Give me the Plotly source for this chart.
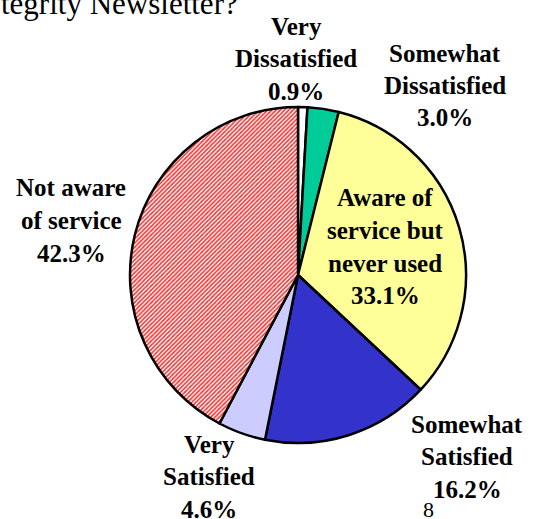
import plotly.graph_objects as go

W, H = 537, 519

labels = ["Very Dissatisfied", "Somewhat Dissatisfied", "Aware of service but never used",
          "Somewhat Satisfied", "Very Satisfied", "Not aware of service"]
values = [0.9, 3.0, 33.1, 16.2, 4.6, 42.3]
colors = ["#FFFFFF", "#00CC99", "#FFFF99", "#3333CC", "#CCCCFF", "#FFFFFF"]
shapes = ["", "", "", "", "", "/"]

# label text blocks (lines) shown round the pie
label_lines = [
    ["Very", "Dissatisfied", "0.9%"],
    ["Somewhat", "Dissatisfied", "3.0%"],
    ["Aware of", "service but", "never used", "33.1%"],
    ["Somewhat", "Satisfied", "16.2%"],
    ["Very", "Satisfied", "4.6%"],
    ["Not aware", "of service", "42.3%"],
]
# pixel centre of first line for each block
label_pos = [(296, 26), (445, 53), (385, 198), (467, 424), (209, 444), (71, 188)]
line_gap = 32.5

cx, cy, r = 298, 275, 168

SERIF = "Times New Roman, Liberation Serif, serif"

fig = go.Figure()
fig.add_trace(go.Pie(
    labels=labels,
    values=values,
    sort=False,
    direction="clockwise",
    rotation=0,
    textinfo="none",
    hoverinfo="label+percent",
    showlegend=False,
    domain=dict(x=[(cx - r) / W, (cx + r) / W], y=[1 - (cy + r) / H, 1 - (cy - r) / H]),
    marker=dict(
        colors=colors,
        line=dict(color="#000000", width=2.5),
        pattern=dict(shape=shapes, fgcolor="#F03A3A", bgcolor="#FFFFFF",
                     size=3, solidity=0.55),
    ),
))

annotations = []
for lines, (px, py) in zip(label_lines, label_pos):
    for i, t in enumerate(lines):
        annotations.append(dict(
            x=px / W, y=1 - (py + i * line_gap) / H,
            xref="paper", yref="paper",
            text="<b>" + t + "</b>", showarrow=False,
            xanchor="center", yanchor="middle",
            font=dict(family=SERIF, size=25, color="#000000"),
        ))

# cropped slide title and page number
annotations.append(dict(
    x=-1 / W, y=1 - 3 / H, xref="paper", yref="paper",
    text="tegrity Newsletter?", showarrow=False,
    xanchor="left", yanchor="middle",
    font=dict(family=SERIF, size=31, color="#000000"),
))
annotations.append(dict(
    x=428 / W, y=1 - 509 / H, xref="paper", yref="paper",
    text="8", showarrow=False, xanchor="center", yanchor="middle",
    font=dict(family=SERIF, size=22, color="#000000"),
))

fig.update_layout(
    width=W, height=H,
    margin=dict(l=0, r=0, t=0, b=0),
    paper_bgcolor="#FFFFFF",
    plot_bgcolor="#FFFFFF",
    annotations=annotations,
)

# drop the default body margin so the figure fills the window
fig.write_html("out.html", config={"displayModeBar": False},
               post_script="document.body.style.margin='0';")
